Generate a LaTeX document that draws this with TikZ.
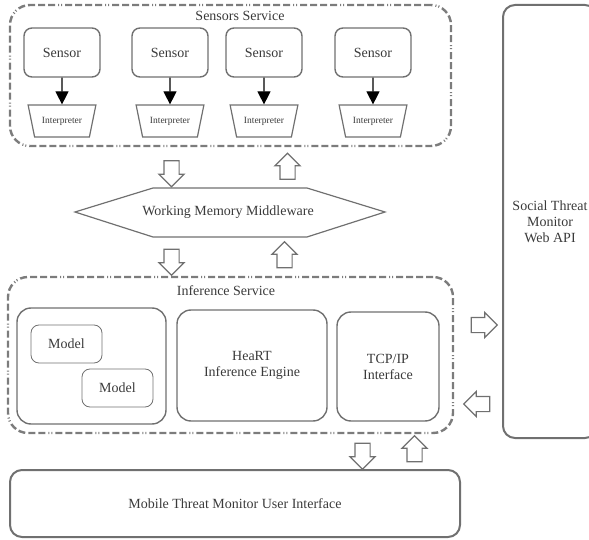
\documentclass[tikz,border=0pt]{standalone}
\usepackage{fontspec}
\setmainfont{Liberation Serif}
\usetikzlibrary{positioning, arrows.meta, shapes.geometric, shapes.arrows}
\definecolor{linegray}{HTML}{707070}
\definecolor{dashgray}{HTML}{7C7C7C}
\definecolor{textgray}{HTML}{3A3A3A}

\begin{document}
\begin{tikzpicture}[
  x=1pt, y=-1pt,
  font=\fontsize{14}{16}\selectfont, text=textgray,
  service/.style={draw=dashgray, line width=2.4pt, rounded corners=20pt,
                  dash pattern=on 7pt off 3pt on 7pt off 3pt on 7pt off 3pt on 7pt off 3pt on 1pt off 2pt on 1pt off 3pt},
  box/.style={draw=linegray, line width=1.4pt, rounded corners=14pt, align=center},
  sensorbox/.style={draw=linegray, line width=1.4pt, rounded corners=8pt,
                    minimum width=76pt, minimum height=49pt},
  interp/.style={draw=linegray, line width=1.2pt, trapezium, shape border rotate=180,
                 trapezium stretches=true, minimum width=68pt, minimum height=32pt,
                 inner sep=0pt, font=\fontsize{9.5}{11}\selectfont},
  model/.style={draw=linegray, line width=0.8pt, rounded corners=8pt,
                minimum width=71pt, minimum height=38pt},
  flow/.style={single arrow, draw=linegray, line width=1.2pt, inner xsep=0pt, inner ysep=7pt,
               minimum height=26pt, single arrow head extend=5pt},
  sarr/.style={-{Triangle[length=13pt, width=13pt]}, line width=1.2pt, black}
]
\useasboundingbox (0,0) rectangle (589,540);

% sensors service
\node[service, minimum width=441pt, minimum height=141pt] (sensorsvc) at (230.5,75.5) {};
\node (sensorlbl) at (240,16) {Sensors Service};
\foreach \i/\x in {1/62, 2/170, 3/264, 4/373} {
  \node[sensorbox] (s\i) at (\x,52.5) {Sensor};
  \node[interp] (i\i) at (\x,121) {Interpreter};
  \draw[sarr] (s\i) -- (i\i);
}

% working memory
\draw[draw=linegray, line width=1.2pt] (75,212) -- (153,188) -- (307,188) -- (385,212)
  -- (307,237) -- (153,237) -- cycle;
\node (wmm) at (228,212) {Working Memory Middleware};
\node[flow, rotate=-90] (down1) at (171.5,170) {};
\node[flow, rotate=90] (up1) at (287.5,170) {};
\node[flow, rotate=-90] (down2) at (171.5,258.5) {};
\node[flow, rotate=90] (up2) at (284.5,258.5) {};

% inference service
\node[service, minimum width=445pt, minimum height=156pt] (infersvc) at (230.5,355) {};
\node (inferlbl) at (226,291) {Inference Service};
\node[box, minimum width=149pt, minimum height=116pt] (models) at (91.5,366) {};
\node[model] (m1) at (66.5,344) {Model};
\node[model] (m2) at (117.5,388) {Model};
\node[box, minimum width=150pt, minimum height=111pt] (heart) at (252,365.5) {HeaRT\\Inference Engine};
\node[box, minimum width=102pt, minimum height=109pt] (tcp) at (388,366.5) {TCP/IP\\Interface};

% web api
\node[draw=linegray, line width=2pt, rounded corners=12pt, align=center,
      minimum width=94pt, minimum height=433pt] (webapi) at (550,221.5) {Social Threat\\Monitor\\Web API};
\node[flow] (right1) at (480.5,325) {};
\node[flow, rotate=180] (left1) at (480.5,404) {};

% mobile ui
\node[flow, rotate=-90] (down3) at (362.5,452.5) {};
\node[flow, rotate=90] (up3) at (414.5,452.5) {};
\node[draw=linegray, line width=2pt, rounded corners=12pt,
      minimum width=450pt, minimum height=67pt] (mobile) at (235,503.5) {Mobile Threat Monitor User Interface};
\end{tikzpicture}
\end{document}
